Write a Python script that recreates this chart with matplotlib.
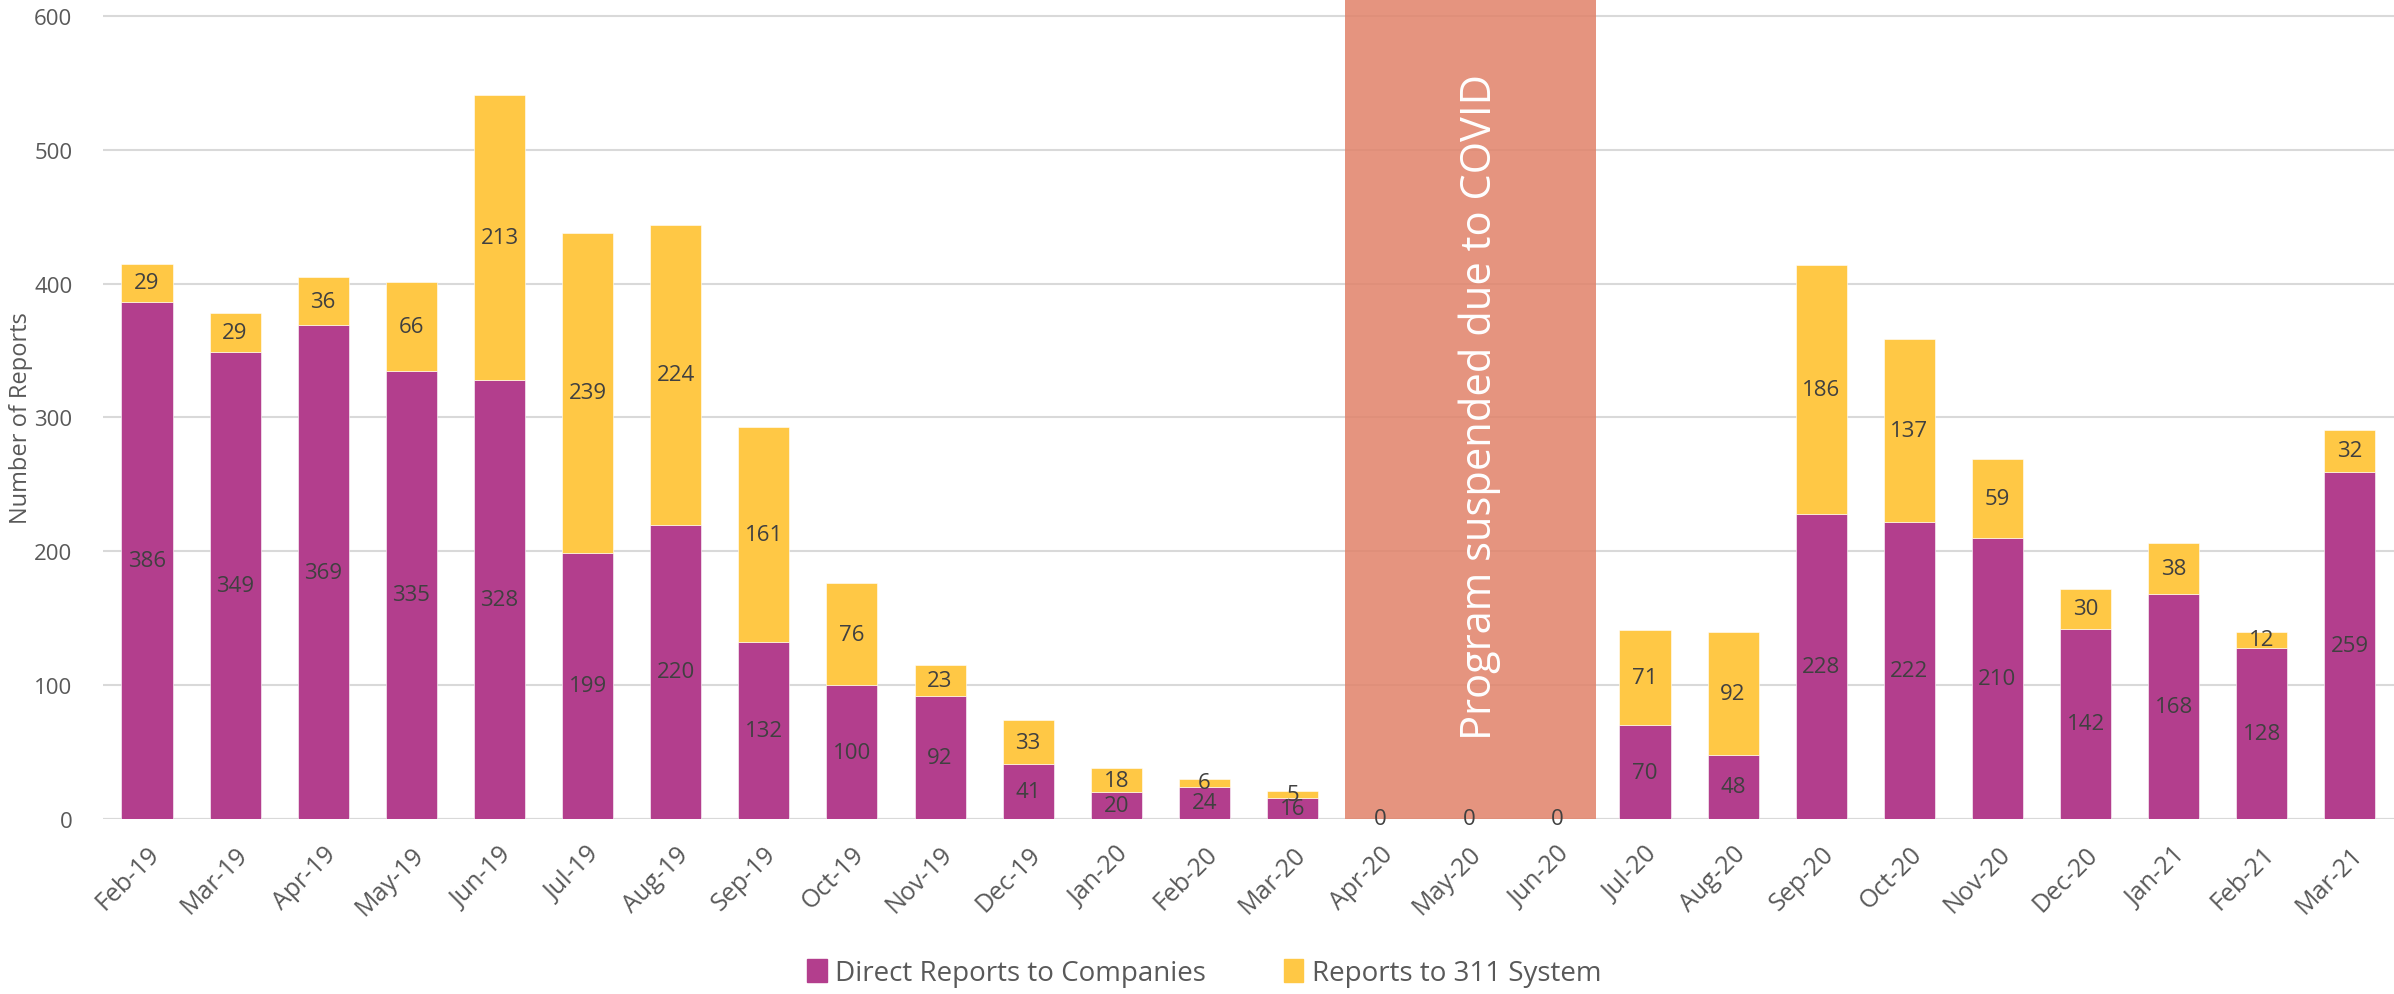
import matplotlib
matplotlib.use("Agg")
import matplotlib.pyplot as plt
import numpy as np
from matplotlib.patches import Patch

plt.rcParams['font.family'] = ['Open Sans', 'DejaVu Sans']

months = ["Feb-19", "Mar-19", "Apr-19", "May-19", "Jun-19", "Jul-19", "Aug-19",
          "Sep-19", "Oct-19", "Nov-19", "Dec-19", "Jan-20", "Feb-20", "Mar-20",
          "Apr-20", "May-20", "Jun-20", "Jul-20", "Aug-20", "Sep-20", "Oct-20",
          "Nov-20", "Dec-20", "Jan-21", "Feb-21", "Mar-21"]
direct = [386, 349, 369, 335, 328, 199, 220, 132, 100, 92, 41, 20, 24, 16,
          0, 0, 0, 70, 48, 228, 222, 210, 142, 168, 128, 259]
sys311 = [29, 29, 36, 66, 213, 239, 224, 161, 76, 23, 33, 18, 6, 5,
          0, 0, 0, 71, 92, 186, 137, 59, 30, 38, 12, 32]
suspended = ["Apr-20", "May-20", "Jun-20"]

purple = "#B33E8D"
yellow = "#FFC845"
label_col = "#404040"
tick_col = "#595959"

fig = plt.figure(figsize=(23.94, 9.95), dpi=100)
ax = fig.add_axes([0.043, 0.1759, 0.957, 0.8241])

x = np.arange(len(months))
ax.bar(x, direct, width=0.58, color=purple, edgecolor="white", linewidth=0.4, zorder=2)
ax.bar(x, sys311, width=0.58, bottom=direct, color=yellow, edgecolor="white", linewidth=0.4, zorder=2)

# covid shading
i0 = months.index(suspended[0])
i1 = months.index(suspended[-1])
ax.axvspan(i0 - 0.4, i1 + 0.44, ymin=0, ymax=1, color="#E18269", alpha=0.85, lw=0, zorder=3)
ax.text((i0 + i1) / 2 + 0.12, 60, "Program suspended due to COVID", rotation=90,
        ha="center", va="bottom", color="white", fontsize=30, zorder=4)

for xi, d, s in zip(x, direct, sys311):
    if d == 0 and s == 0:
        ax.text(xi, 0, "0", ha="center", va="center", fontsize=16, color=label_col, zorder=5)
        continue
    ax.text(xi, d / 2, str(d), ha="center", va="center", fontsize=16, color=label_col, zorder=5)
    ax.text(xi, d + s / 2, str(s), ha="center", va="center", fontsize=16, color=label_col, zorder=5)

ax.set_xlim(-0.5, len(months) - 0.5)
ax.set_ylim(0, 612.7)
ax.set_yticks(range(0, 601, 100))
ax.yaxis.grid(True, color="#D9D9D9", linewidth=1.5, zorder=0)
ax.set_axisbelow(True)
for sp in ax.spines.values():
    sp.set_visible(False)
ax.axhline(0, color="#D9D9D9", linewidth=1.5, zorder=1)

ax.set_xticks(x)
ax.set_xticklabels(months, rotation=45, ha="right", rotation_mode="anchor",
                   fontsize=18, color=tick_col)
ax.tick_params(axis="x", length=0, pad=16)
ax.tick_params(axis="y", length=0, pad=22, labelsize=16, labelcolor=tick_col)
ax.set_ylabel("Number of Reports", fontsize=17, color=tick_col)
ax.yaxis.set_label_coords(-0.0305, 0.49)

handles = [Patch(color=purple, label="Direct Reports to Companies"),
           Patch(color=yellow, label="Reports to 311 System")]
fig.legend(handles=handles, loc="center", bbox_to_anchor=(0.503, 0.021), ncol=2,
           frameon=False, fontsize=20, handlelength=0.7, handleheight=0.9,
           handletextpad=0.3, columnspacing=2.8, labelcolor=tick_col)

fig.savefig("out.png", dpi=100)
